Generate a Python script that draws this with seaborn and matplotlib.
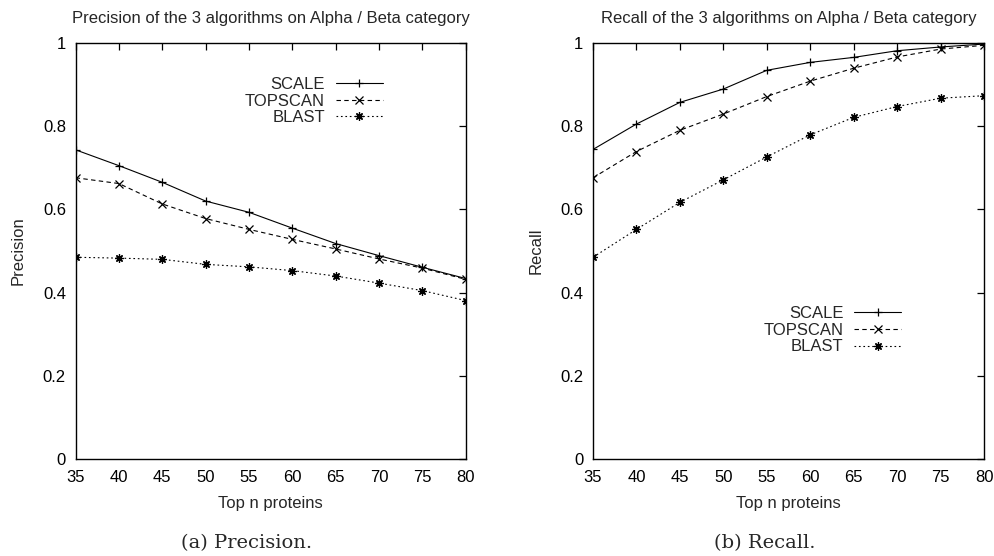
import numpy as np
import pandas as pd
import matplotlib
matplotlib.use("Agg")
import matplotlib.pyplot as plt
import seaborn as sns
from matplotlib.ticker import FuncFormatter

top_n = [35, 40, 45, 50, 55, 60, 65, 70, 75, 80]
algorithms = ["SCALE", "TOPSCAN", "BLAST"]

precision_scale = [0.743, 0.705, 0.665, 0.620, 0.593, 0.555, 0.518, 0.489, 0.461, 0.434]
precision_topscan = [0.676, 0.662, 0.613, 0.578, 0.552, 0.528, 0.505, 0.481, 0.459, 0.432]
precision_blast = [0.485, 0.483, 0.480, 0.468, 0.462, 0.453, 0.440, 0.423, 0.405, 0.381]

recall_scale = [0.744, 0.805, 0.857, 0.889, 0.934, 0.953, 0.965, 0.981, 0.990, 0.997]
recall_topscan = [0.676, 0.739, 0.790, 0.829, 0.871, 0.908, 0.939, 0.966, 0.985, 0.994]
recall_blast = [0.485, 0.552, 0.617, 0.671, 0.726, 0.779, 0.821, 0.847, 0.867, 0.873]

titles = ["Precision of the 3 algorithms on Alpha / Beta category",
          "Recall of the 3 algorithms on Alpha / Beta category"]
ylabels = ["Precision", "Recall"]
captions = ["(a) Precision.", "(b) Recall."]
xlabel = "Top n proteins"


def long_df(series):
    rows = []
    for alg, vals in zip(algorithms, series):
        for x, v in zip(top_n, vals):
            rows.append({"n": x, "value": v, "algorithm": alg})
    return pd.DataFrame(rows)


df_prec = long_df([precision_scale, precision_topscan, precision_blast])
df_rec = long_df([recall_scale, recall_topscan, recall_blast])

sns.set_style("white")
plt.rcParams["font.family"] = ["Liberation Sans", "DejaVu Sans"]

fig = plt.figure(figsize=(9.95, 5.56), dpi=100)
ax1 = fig.add_axes([0.076, 0.174, 0.392, 0.749])
ax2 = fig.add_axes([0.596, 0.174, 0.393, 0.749])

markers = {"SCALE": "+", "TOPSCAN": "x", "BLAST": (8, 2, 0)}
dashes = {"SCALE": "", "TOPSCAN": (4, 3), "BLAST": (1.5, 2.5)}
palette = {a: "black" for a in algorithms}
FS = 12

for ax, df, title, ylab in [(ax1, df_prec, titles[0], ylabels[0]),
                            (ax2, df_rec, titles[1], ylabels[1])]:
    sns.lineplot(data=df, x="n", y="value", hue="algorithm", style="algorithm",
                 markers=markers, dashes=dashes, palette=palette, ax=ax,
                 linewidth=0.8, markersize=6, markeredgewidth=0.9,
                 markeredgecolor="black", legend=True)
    ax.set_xlim(35, 80)
    ax.set_ylim(0, 1)
    ax.set_xticks(top_n)
    ax.set_yticks([0, 0.2, 0.4, 0.6, 0.8, 1.0])
    ax.yaxis.set_major_formatter(FuncFormatter(lambda v, p: "%g" % round(v, 2)))
    ax.tick_params(direction="in", length=5, width=0.9, top=True, right=True,
                   labelsize=FS, colors="black")
    ax.tick_params(axis="y", pad=7)
    ax.tick_params(axis="x", pad=8)
    for s in ax.spines.values():
        s.set_linewidth(1.0)
        s.set_color("black")
    ax.set_title(title, fontsize=FS, pad=14)
    ax.set_xlabel(xlabel, fontsize=FS, labelpad=8)
    ax.set_ylabel(ylab, fontsize=FS, labelpad=12)

leg_kw = dict(frameon=False, markerfirst=False, fontsize=FS, handlelength=2.8,
              labelspacing=0.1, handletextpad=0.65, borderpad=0.0,
              borderaxespad=0.0, title=None, loc="upper right")
h, l = ax1.get_legend_handles_labels()
ax1.legend(h, l, bbox_to_anchor=(0.787, 0.918), **leg_kw)
h, l = ax2.get_legend_handles_labels()
ax2.legend(h, l, bbox_to_anchor=(0.788, 0.368), **leg_kw)
for leg in (ax1.get_legend(), ax2.get_legend()):
    for t in leg.get_texts():
        t.set_ha("right")
    leg._legend_box.align = "right"

fig.text(247 / 995, 1 - 543 / 556, captions[0], ha="center", va="center",
         fontsize=14, family=["DejaVu Serif"])
fig.text(765 / 995, 1 - 543 / 556, captions[1], ha="center", va="center",
         fontsize=14, family=["DejaVu Serif"])

fig.savefig("out.png", dpi=100)
